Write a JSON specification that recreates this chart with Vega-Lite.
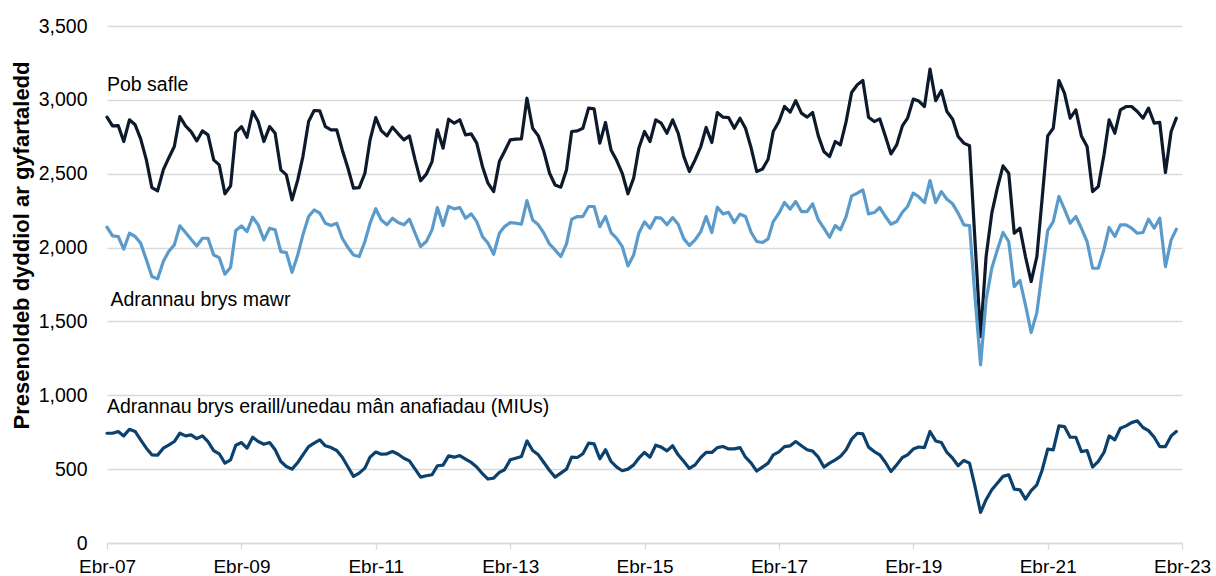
{
 "$schema": "https://vega.github.io/schema/vega-lite/v6.json",
 "width": 1075,
 "height": 517,
 "autosize": {"type": "none"},
 "padding": {"left": 107, "top": 26, "right": 34, "bottom": 33},
 "background": "white",
 "config": {"font": "Liberation Sans", "view": {"stroke": null}},
 "datasets": {
  "series": [
{"d":"2007-04","P":2883,"M":2138,"U":743},{"d":"2007-05","P":2824,"M":2079,"U":743},{"d":"2007-06","P":2826,"M":2075,"U":755},{"d":"2007-07","P":2718,"M":1989,"U":725},{"d":"2007-08","P":2865,"M":2097,"U":770},{"d":"2007-09","P":2831,"M":2075,"U":755},{"d":"2007-10","P":2736,"M":2030,"U":698},{"d":"2007-11","P":2594,"M":1917,"U":642},{"d":"2007-12","P":2406,"M":1804,"U":597},
{"d":"2008-01","P":2384,"M":1788,"U":595},{"d":"2008-02","P":2526,"M":1905,"U":642},{"d":"2008-03","P":2605,"M":1973,"U":662},{"d":"2008-04","P":2684,"M":2018,"U":687},{"d":"2008-05","P":2887,"M":2147,"U":743},{"d":"2008-06","P":2824,"M":2102,"U":725},{"d":"2008-07","P":2785,"M":2057,"U":732},{"d":"2008-08","P":2722,"M":2011,"U":707},{"d":"2008-09","P":2790,"M":2063,"U":725},{"d":"2008-10","P":2763,"M":2063,"U":687},{"d":"2008-11","P":2594,"M":1950,"U":626},{"d":"2008-12","P":2560,"M":1932,"U":604},
{"d":"2009-01","P":2364,"M":1820,"U":541},{"d":"2009-02","P":2418,"M":1867,"U":563},{"d":"2009-03","P":2779,"M":2115,"U":662},{"d":"2009-04","P":2819,"M":2147,"U":680},{"d":"2009-05","P":2747,"M":2108,"U":642},{"d":"2009-06","P":2921,"M":2206,"U":716},{"d":"2009-07","P":2853,"M":2154,"U":687},{"d":"2009-08","P":2718,"M":2052,"U":669},{"d":"2009-09","P":2819,"M":2131,"U":680},{"d":"2009-10","P":2774,"M":2120,"U":631},{"d":"2009-11","P":2526,"M":1973,"U":552},{"d":"2009-12","P":2492,"M":1966,"U":518},
{"d":"2010-01","P":2323,"M":1833,"U":500},{"d":"2010-02","P":2458,"M":1950,"U":545},{"d":"2010-03","P":2616,"M":2086,"U":597},{"d":"2010-04","P":2853,"M":2210,"U":653},{"d":"2010-05","P":2928,"M":2255,"U":676},{"d":"2010-06","P":2925,"M":2233,"U":698},{"d":"2010-07","P":2819,"M":2165,"U":658},{"d":"2010-08","P":2797,"M":2149,"U":646},{"d":"2010-09","P":2797,"M":2165,"U":626},{"d":"2010-10","P":2661,"M":2063,"U":581},{"d":"2010-11","P":2537,"M":2000,"U":514},{"d":"2010-12","P":2402,"M":1950,"U":451},
{"d":"2011-01","P":2406,"M":1939,"U":473},{"d":"2011-02","P":2503,"M":2041,"U":507},{"d":"2011-03","P":2729,"M":2165,"U":581},{"d":"2011-04","P":2880,"M":2263,"U":616},{"d":"2011-05","P":2792,"M":2187,"U":601},{"d":"2011-06","P":2756,"M":2154,"U":604},{"d":"2011-07","P":2815,"M":2199,"U":619},{"d":"2011-08","P":2770,"M":2169,"U":601},{"d":"2011-09","P":2729,"M":2154,"U":574},{"d":"2011-10","P":2756,"M":2192,"U":556},{"d":"2011-11","P":2594,"M":2097,"U":500},{"d":"2011-12","P":2452,"M":2007,"U":446},
{"d":"2012-01","P":2497,"M":2041,"U":455},{"d":"2012-02","P":2582,"M":2120,"U":462},{"d":"2012-03","P":2797,"M":2271,"U":523},{"d":"2012-04","P":2673,"M":2149,"U":527},{"d":"2012-05","P":2869,"M":2278,"U":590},{"d":"2012-06","P":2842,"M":2262,"U":581},{"d":"2012-07","P":2865,"M":2271,"U":592},{"d":"2012-08","P":2763,"M":2199,"U":568},{"d":"2012-09","P":2770,"M":2228,"U":545},{"d":"2012-10","P":2707,"M":2176,"U":514},{"d":"2012-11","P":2549,"M":2075,"U":469},{"d":"2012-12","P":2436,"M":2030,"U":433},
{"d":"2013-01","P":2379,"M":1955,"U":439},{"d":"2013-02","P":2582,"M":2097,"U":478},{"d":"2013-03","P":2650,"M":2142,"U":496},{"d":"2013-04","P":2729,"M":2169,"U":563},{"d":"2013-05","P":2734,"M":2165,"U":574},{"d":"2013-06","P":2736,"M":2158,"U":586},{"d":"2013-07","P":3011,"M":2318,"U":691},{"d":"2013-08","P":2808,"M":2187,"U":626},{"d":"2013-09","P":2756,"M":2154,"U":597},{"d":"2013-10","P":2650,"M":2097,"U":545},{"d":"2013-11","P":2503,"M":2023,"U":491},{"d":"2013-12","P":2424,"M":1984,"U":446},
{"d":"2014-01","P":2409,"M":1939,"U":473},{"d":"2014-02","P":2526,"M":2025,"U":500},{"d":"2014-03","P":2786,"M":2192,"U":581},{"d":"2014-04","P":2790,"M":2210,"U":579},{"d":"2014-05","P":2808,"M":2210,"U":604},{"d":"2014-06","P":2944,"M":2278,"U":676},{"d":"2014-07","P":2939,"M":2278,"U":671},{"d":"2014-08","P":2707,"M":2142,"U":570},{"d":"2014-09","P":2847,"M":2210,"U":631},{"d":"2014-10","P":2661,"M":2102,"U":552},{"d":"2014-11","P":2589,"M":2063,"U":514},{"d":"2014-12","P":2503,"M":2007,"U":489},
{"d":"2015-01","P":2364,"M":1876,"U":500},{"d":"2015-02","P":2470,"M":1950,"U":529},{"d":"2015-03","P":2673,"M":2097,"U":574},{"d":"2015-04","P":2786,"M":2174,"U":613},{"d":"2015-05","P":2718,"M":2131,"U":581},{"d":"2015-06","P":2865,"M":2203,"U":662},{"d":"2015-07","P":2842,"M":2199,"U":649},{"d":"2015-08","P":2774,"M":2154,"U":624},{"d":"2015-09","P":2865,"M":2203,"U":658},{"d":"2015-10","P":2774,"M":2158,"U":597},{"d":"2015-11","P":2616,"M":2059,"U":552},{"d":"2015-12","P":2515,"M":2014,"U":505},
{"d":"2016-01","P":2594,"M":2052,"U":529},{"d":"2016-02","P":2684,"M":2108,"U":579},{"d":"2016-03","P":2813,"M":2210,"U":613},{"d":"2016-04","P":2711,"M":2102,"U":613},{"d":"2016-05","P":2914,"M":2273,"U":646},{"d":"2016-06","P":2883,"M":2228,"U":653},{"d":"2016-07","P":2880,"M":2239,"U":637},{"d":"2016-08","P":2808,"M":2169,"U":637},{"d":"2016-09","P":2876,"M":2226,"U":646},{"d":"2016-10","P":2808,"M":2210,"U":581},{"d":"2016-11","P":2673,"M":2102,"U":541},{"d":"2016-12","P":2515,"M":2041,"U":487},
{"d":"2017-01","P":2531,"M":2034,"U":514},{"d":"2017-02","P":2598,"M":2059,"U":541},{"d":"2017-03","P":2786,"M":2176,"U":597},{"d":"2017-04","P":2853,"M":2233,"U":617},{"d":"2017-05","P":2955,"M":2305,"U":653},{"d":"2017-06","P":2917,"M":2260,"U":658},{"d":"2017-07","P":2995,"M":2312,"U":687},{"d":"2017-08","P":2910,"M":2244,"U":658},{"d":"2017-09","P":2883,"M":2244,"U":631},{"d":"2017-10","P":2914,"M":2296,"U":622},{"d":"2017-11","P":2756,"M":2187,"U":581},{"d":"2017-12","P":2650,"M":2131,"U":514},
{"d":"2018-01","P":2616,"M":2070,"U":541},{"d":"2018-02","P":2718,"M":2149,"U":563},{"d":"2018-03","P":2695,"M":2120,"U":586},{"d":"2018-04","P":2853,"M":2210,"U":631},{"d":"2018-05","P":3050,"M":2350,"U":703},{"d":"2018-06","P":3102,"M":2368,"U":743},{"d":"2018-07","P":3131,"M":2391,"U":739},{"d":"2018-08","P":2883,"M":2228,"U":649},{"d":"2018-09","P":2853,"M":2237,"U":619},{"d":"2018-10","P":2871,"M":2271,"U":597},{"d":"2018-11","P":2752,"M":2210,"U":545},{"d":"2018-12","P":2634,"M":2158,"U":484},
{"d":"2019-01","P":2695,"M":2176,"U":529},{"d":"2019-02","P":2824,"M":2239,"U":579},{"d":"2019-03","P":2876,"M":2278,"U":597},{"d":"2019-04","P":3005,"M":2368,"U":636},{"d":"2019-05","P":2992,"M":2344,"U":650},{"d":"2019-06","P":2955,"M":2305,"U":646},{"d":"2019-07","P":3208,"M":2454,"U":755},{"d":"2019-08","P":2995,"M":2305,"U":691},{"d":"2019-09","P":3063,"M":2379,"U":680},{"d":"2019-10","P":2921,"M":2327,"U":613},{"d":"2019-11","P":2869,"M":2296,"U":574},{"d":"2019-12","P":2752,"M":2233,"U":523},
{"d":"2020-01","P":2707,"M":2154,"U":559},{"d":"2020-02","P":2689,"M":2149,"U":541},{"d":"2020-03","P":2060,"M":1677,"U":387},{"d":"2020-04","P":1397,"M":1206,"U":207},{"d":"2020-05","P":1939,"M":1646,"U":293},{"d":"2020-06","P":2233,"M":1860,"U":360},{"d":"2020-07","P":2402,"M":1984,"U":405},{"d":"2020-08","P":2553,"M":2102,"U":451},{"d":"2020-09","P":2503,"M":2041,"U":462},{"d":"2020-10","P":2097,"M":1736,"U":365},{"d":"2020-11","P":2131,"M":1777,"U":360},{"d":"2020-12","P":1939,"M":1612,"U":297},
{"d":"2021-01","P":1770,"M":1425,"U":354},{"d":"2021-02","P":1939,"M":1560,"U":394},{"d":"2021-03","P":2323,"M":1826,"U":491},{"d":"2021-04","P":2756,"M":2115,"U":635},{"d":"2021-05","P":2808,"M":2176,"U":631},{"d":"2021-06","P":3131,"M":2346,"U":793},{"d":"2021-07","P":3045,"M":2260,"U":788},{"d":"2021-08","P":2876,"M":2165,"U":716},{"d":"2021-09","P":2932,"M":2210,"U":716},{"d":"2021-10","P":2756,"M":2131,"U":619},{"d":"2021-11","P":2684,"M":2041,"U":626},{"d":"2021-12","P":2379,"M":1860,"U":514},
{"d":"2022-01","P":2413,"M":1860,"U":552},{"d":"2022-02","P":2628,"M":1989,"U":613},{"d":"2022-03","P":2865,"M":2136,"U":725},{"d":"2022-04","P":2774,"M":2075,"U":698},{"d":"2022-05","P":2932,"M":2154,"U":777},{"d":"2022-06","P":2955,"M":2154,"U":793},{"d":"2022-07","P":2955,"M":2131,"U":815},{"d":"2022-08","P":2921,"M":2097,"U":827},{"d":"2022-09","P":2876,"M":2102,"U":782},{"d":"2022-10","P":2944,"M":2192,"U":761},{"d":"2022-11","P":2842,"M":2131,"U":716},{"d":"2022-12","P":2847,"M":2199,"U":653},
{"d":"2023-01","P":2508,"M":1871,"U":653},{"d":"2023-02","P":2786,"M":2052,"U":725},{"d":"2023-03","P":2876,"M":2124,"U":755}
  ],
  "labels": [
   {"d": "2007-04-01", "v": 3100, "t": "Pob safle"},
   {"d": "2007-04-20", "v": 1647, "t": "Adrannau brys mawr"},
   {"d": "2007-04-01", "v": 924, "t": "Adrannau brys eraill/unedau mân anafiadau (MIUs)"}
  ]
 },
 "layer": [
  {
   "data": {"name": "series"},
   "transform": [{"fold": ["P", "M", "U"], "as": ["s", "v"]}],
   "mark": {"type": "line", "strokeWidth": 3.2, "strokeJoin": "round", "strokeCap": "round"},
   "encoding": {
    "x": {
     "field": "d", "type": "temporal",
     "scale": {"type": "utc", "domain": [{"year": 2007, "month": 4, "date": 1, "utc": true}, {"year": 2023, "month": 4, "date": 1, "utc": true}]},
     "axis": {
      "title": null,
      "values": [
       {"year": 2007, "month": 4, "date": 1, "utc": true},
       {"year": 2009, "month": 4, "date": 1, "utc": true},
       {"year": 2011, "month": 4, "date": 1, "utc": true},
       {"year": 2013, "month": 4, "date": 1, "utc": true},
       {"year": 2015, "month": 4, "date": 1, "utc": true},
       {"year": 2017, "month": 4, "date": 1, "utc": true},
       {"year": 2019, "month": 4, "date": 1, "utc": true},
       {"year": 2021, "month": 4, "date": 1, "utc": true},
       {"year": 2023, "month": 4, "date": 1, "utc": true}
      ],
      "labelExpr": "'Ebr-' + utcFormat(datum.value, '%y')",
      "grid": false,
      "domainColor": "#d9d9d9",
      "domainWidth": 1.3,
      "tickColor": "#d9d9d9",
      "tickWidth": 1.3,
      "tickSize": 6,
      "labelPadding": 8,
      "labelFontSize": 19,
      "labelColor": "#000000",
      "labelFlush": false,
      "labelOverlap": false
     }
    },
    "y": {
     "field": "v", "type": "quantitative",
     "scale": {"domain": [0, 3500], "nice": false},
     "axis": {
      "title": "Presenoldeb dyddiol ar gyfartaledd",
      "titleFontSize": 22,
      "titleFontWeight": "bold",
      "titleColor": "#000000",
      "titleAngle": -90,
      "titleAlign": "center",
      "titleBaseline": "alphabetic",
      "titleX": -79,
      "titleY": 219,
      "values": [0, 500, 1000, 1500, 2000, 2500, 3000, 3500],
      "format": ",.0f",
      "domain": false,
      "ticks": false,
      "tickSize": 0,
      "labelPadding": 20,
      "labelFontSize": 19.5,
      "labelColor": "#000000",
      "grid": true,
      "gridColor": "#d9d9d9",
      "gridWidth": 1.3
     }
    },
    "color": {
     "field": "s", "type": "nominal",
     "scale": {"domain": ["P", "M", "U"], "range": ["#0d1a2c", "#5b9bcb", "#0b416c"]},
     "legend": null
    }
   }
  },
  {
   "data": {"name": "labels"},
   "mark": {"type": "text", "align": "left", "baseline": "middle", "fontSize": 19.5, "color": "#000000"},
   "encoding": {
    "x": {"field": "d", "type": "temporal"},
    "y": {"field": "v", "type": "quantitative"},
    "text": {"field": "t"}
   }
  }
 ]
}
